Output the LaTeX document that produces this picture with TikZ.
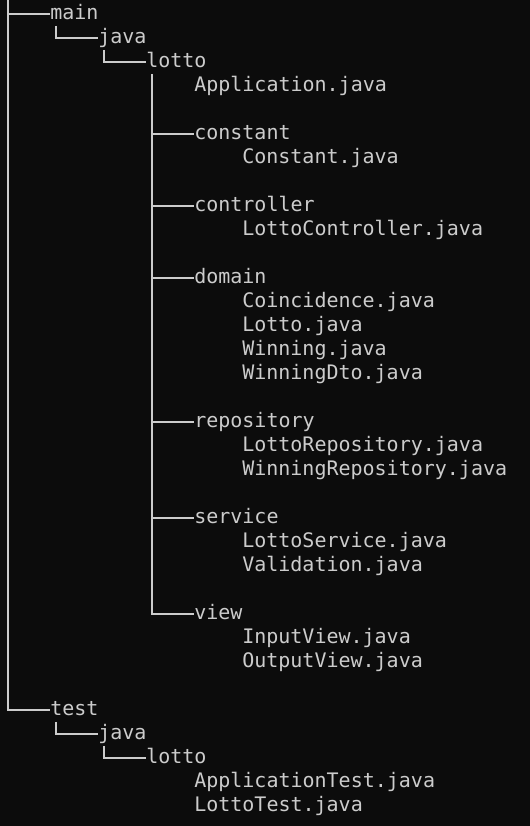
\documentclass[tikz,border=0pt]{standalone}
\usepackage{fontspec}
\setmonofont{DejaVu Sans Mono}
\definecolor{termbg}{HTML}{0C0C0C}
\definecolor{termfg}{HTML}{CCCCCC}

\begin{document}
\begin{tikzpicture}[x=0.75pt,y=-0.75pt,
    entry/.style={anchor=west,inner sep=0pt,text height=13.125pt,text depth=4.875pt,
      text=termfg,font=\ttfamily\fontsize{15}{18}\selectfont},
    branch/.style={draw=termfg,line width=1.5pt}]
    \fill[termbg] (0,0) rectangle (530,826);
    \useasboundingbox (0,0) rectangle (530,826);

    % main side
    \node[entry] (main) at (50,13.5) {main};
    \node[entry] (java) at (98,37.5) {java};
    \node[entry] (lotto) at (146,61.5) {lotto};
    \node[entry] (app) at (194,85.5) {Application.java};
    \node[entry] (constant) at (194,133.5) {constant};
    \node[entry] (constantf) at (242,157.5) {Constant.java};
    \node[entry] (controller) at (194,205.5) {controller};
    \node[entry] (controllerf) at (242,229.5) {LottoController.java};
    \node[entry] (domain) at (194,277.5) {domain};
    \node[entry] (coincidence) at (242,301.5) {Coincidence.java};
    \node[entry] (lottof) at (242,325.5) {Lotto.java};
    \node[entry] (winning) at (242,349.5) {Winning.java};
    \node[entry] (winningdto) at (242,373.5) {WinningDto.java};
    \node[entry] (repository) at (194,421.5) {repository};
    \node[entry] (lottorepo) at (242,445.5) {LottoRepository.java};
    \node[entry] (winningrepo) at (242,469.5) {WinningRepository.java};
    \node[entry] (service) at (194,517.5) {service};
    \node[entry] (lottoservice) at (242,541.5) {LottoService.java};
    \node[entry] (validation) at (242,565.5) {Validation.java};
    \node[entry] (view) at (194,613.5) {view};
    \node[entry] (inputview) at (242,637.5) {InputView.java};
    \node[entry] (outputview) at (242,661.5) {OutputView.java};

    % test side
    \node[entry] (test) at (50,709.5) {test};
    \node[entry] (tjava) at (98,733.5) {java};
    \node[entry] (tlotto) at (146,757.5) {lotto};
    \node[entry] (apptest) at (194,781.5) {ApplicationTest.java};
    \node[entry] (lottotest) at (194,805.5) {LottoTest.java};

    \coordinate (top) at (8,0);
    \coordinate (leg) at ([xshift=4.5pt]lotto.south west);

    \path[branch] (top) |- (test.west);
    \path[branch] (top |- main.west) -- (main.west);
    \path[branch] ([xshift=4.5pt]main.south west) |- (java.west);
    \path[branch] ([xshift=4.5pt]java.south west) |- (lotto.west);
    \path[branch] (leg) |- (view.west);
    \path[branch] (leg |- constant.west) -- (constant.west);
    \path[branch] (leg |- controller.west) -- (controller.west);
    \path[branch] (leg |- domain.west) -- (domain.west);
    \path[branch] (leg |- repository.west) -- (repository.west);
    \path[branch] (leg |- service.west) -- (service.west);
    \path[branch] ([xshift=4.5pt]test.south west) |- (tjava.west);
    \path[branch] ([xshift=4.5pt]tjava.south west) |- (tlotto.west);
  \end{tikzpicture}
\end{document}
